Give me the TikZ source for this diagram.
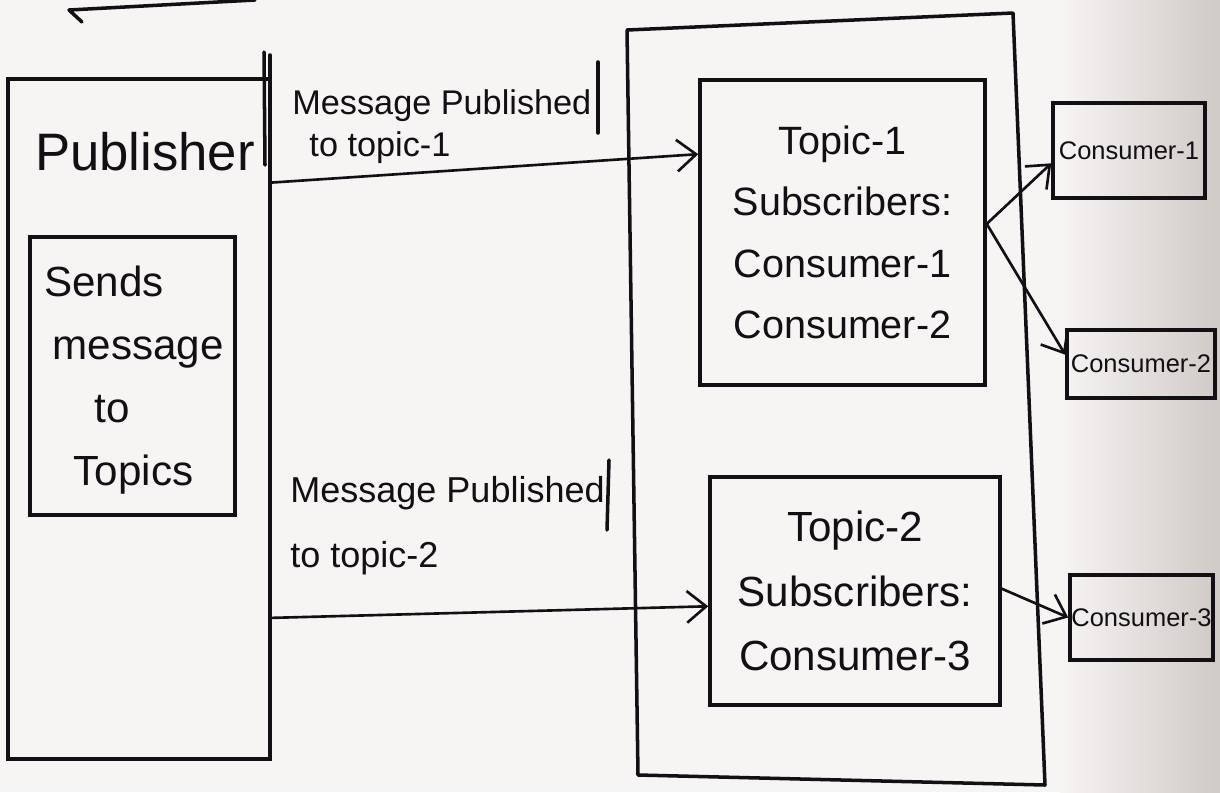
\documentclass[tikz,border=0pt]{standalone}
\usepackage{fontspec}
\setmainfont{Liberation Sans}
\usetikzlibrary{arrows.meta,calc}
\definecolor{paper}{RGB}{247,244,244}
\definecolor{papershade}{RGB}{208,202,198}
\definecolor{ink}{RGB}{18,16,20}
\tikzset{
  box/.style={draw=ink, line width=2pt, rectangle, inner sep=0pt},
  consumerbox/.style={box, font=\fontsize{14.5}{17}\selectfont},
  topicbox/.style={box, align=center},
  lbl/.style={anchor=west, inner sep=0pt, align=left, text=ink},
  arr/.style={draw=ink, line width=1.5pt, -{Straight Barb[length=11pt,width=18pt,line width=1.5pt]}},
  stroke/.style={draw=ink, line width=2pt, line cap=round, line join=round}
}
\begin{document}
\begin{tikzpicture}[x=0.02cm, y=-0.02cm, text=ink]
  % paper
  \fill[paper] (0,0) rectangle (1220,792);
  \shade[left color=paper, right color=papershade] (1060,0) rectangle (1220,792);
  \useasboundingbox (0,0) rectangle (1220,792);

  % stroke left over from the drawing above
  \draw[stroke] (82,22) -- (69,10) -- (255,0);

  % publisher
  \node[box, minimum width=5.24cm, minimum height=13.6cm] (pub) at (139,419) {};
  \node[inner sep=0pt, font=\fontsize{30}{36}\selectfont] (pubtitle) at (145,152) {Publisher};
  \node[box, minimum width=4.1cm, minimum height=5.56cm] (send) at (132.5,376) {};
  \node[lbl, font=\fontsize{24}{36}\selectfont] (sendtext) at (44,380)
    {Sends\\\hspace*{0.2em}message\\\hspace*{1.2em}to\\\hspace*{0.7em}Topics};
  \draw[stroke] (264,52) -- (265,165);
  \draw[stroke] (270,55) -- (270,80);

  % broker
  \draw[stroke] (627,30) -- (1013,13) -- (1045,785) -- (638,775) -- cycle;

  % topics
  \node[topicbox, minimum width=5.7cm, minimum height=6.1cm,
        font=\fontsize{22.5}{35}\selectfont] (t1) at (842.5,232.5)
    {Topic-1\\Subscribers:\\Consumer-1\\Consumer-2};
  \node[topicbox, minimum width=5.8cm, minimum height=4.56cm,
        font=\fontsize{24}{36.5}\selectfont] (t2) at (855,591)
    {Topic-2\\Subscribers:\\Consumer-3};

  % consumers
  \node[consumerbox, minimum width=3.04cm, minimum height=1.9cm] (c1) at (1129,150.5) {Consumer-1};
  \node[consumerbox, minimum width=2.96cm, minimum height=1.36cm] (c2) at (1141,364) {Consumer-2};
  \node[consumerbox, minimum width=2.86cm, minimum height=1.7cm] (c3) at (1141.5,617.5) {Consumer-3};

  % edge labels
  \node[lbl, font=\fontsize{19.5}{24}\selectfont] (l1) at (292,127)
    {Message Published\\\hspace*{0.5em}to topic-1};
  \node[lbl, font=\fontsize{20.5}{37}\selectfont] (l2) at (290,526)
    {Message Published\\to topic-2};
  \draw[stroke] (598,62) -- (598,133);
  \draw[stroke] (609,460) -- (607,530);

  % connectors
  \draw[arr] ($(pub.north east)!0.154!(pub.south east)$) -- ($(t1.north west)!0.246!(t1.south west)$);
  \draw[arr] ($(pub.north east)!0.791!(pub.south east)$) -- ($(t2.north west)!0.566!(t2.south west)$);
  \draw[arr] ($(t1.north east)!0.472!(t1.south east)$) -- ($(c1.north west)!0.63!(c1.south west)$);
  \draw[arr] ($(t1.north east)!0.472!(t1.south east)$) -- ($(c2.north west)!0.37!(c2.south west)$);
  \draw[arr] ($(t2.north east)!0.49!(t2.south east)$) -- (c3.west);
\end{tikzpicture}
\end{document}
